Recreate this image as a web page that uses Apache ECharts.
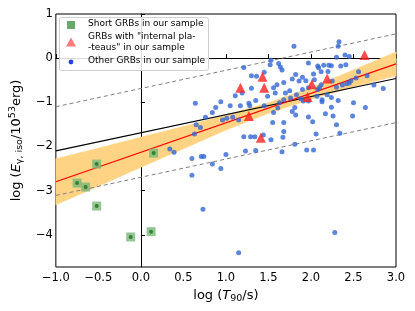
<!DOCTYPE html>
<html>
<head>
<meta charset="utf-8">
<script src="https://cdn.jsdelivr.net/npm/echarts@6/dist/echarts.min.js"></script>
<style>
html,body{margin:0;padding:0;background:#fff;}
#chart{width:415px;height:311px;}
</style>
</head>
<body>
<div id="chart"></div>
<script>
// ---- data ----
const xTickLabels = ['−1.0','−0.5','0.0','0.5','1.0','1.5','2.0','2.5','3.0'];
const yTickLabels = ['−4','−3','−2','−1','0','1'];

const shortGRBs = [[-0.75,-2.83],[-0.65,-2.92],[-0.52,-2.40],[-0.52,-3.35],[-0.12,-4.05],[0.12,-3.93],[0.15,-2.15]];

const plateauGRBs = [[1.17,-0.67],[1.43,-0.42],[1.45,-0.67],[2.01,-0.59],[2.19,-0.46],[2.63,0.07],[1.27,-1.31],[1.96,-0.88],[1.41,-1.80]];

const otherGRBs = [
[1.80,0.27],[1.53,-0.05],[1.21,-0.21],[1.62,-0.12],[1.64,-0.20],[1.66,-0.27],[1.52,-0.15],[1.97,-0.11],[2.08,-0.18],
[1.45,-0.32],[1.36,-0.41],[1.30,-0.40],[1.82,-0.37],[1.78,-0.47],[1.86,-0.52],[1.90,-0.43],[1.94,-0.51],[2.03,-0.36],
[2.04,-0.49],[1.68,-0.55],[1.60,-0.60],[1.56,-0.67],[1.58,-0.79],[1.30,-0.68],[1.75,-0.74],[1.70,-0.79],[1.83,-0.83],
[1.90,-0.71],[1.97,-0.67],[1.19,-0.79],[1.35,-0.96],[1.49,-0.86],[1.68,-0.94],[1.63,-1.01],[1.76,-0.90],[1.88,-0.92],
[2.08,-0.71],[1.11,-0.85],[2.33,0.37],[2.32,0.27],[2.40,0.07],[2.45,0.04],[2.30,0.02],[2.15,-0.16],[2.21,-0.16],
[2.24,-0.17],[2.35,-0.18],[2.41,-0.15],[2.09,-0.22],[2.12,-0.31],[2.20,-0.30],[2.56,-0.31],[2.53,-0.45],[2.47,-0.51],
[2.42,-0.58],[2.66,-0.40],[2.25,-0.52],[2.12,-0.60],[2.10,-0.67],[2.30,-0.66],[2.37,-0.61],[2.45,-0.56],[2.74,-0.61],
[2.85,-0.69],[2.07,-0.86],[2.19,-0.83],[2.24,-0.89],[2.13,-0.94],[2.32,-0.96],[2.50,-1.01],[2.24,-1.11],[2.64,-1.12],
[0.64,-1.02],[0.94,-0.99],[0.88,-1.12],[1.05,-1.08],[1.17,-1.08],[1.27,-1.02],[1.28,-1.08],[0.84,-1.23],[0.76,-1.34],
[1.45,-1.08],[1.56,-1.23],[0.96,-1.40],[1.01,-1.36],[1.08,-1.34],[1.15,-1.40],[0.65,-1.51],[0.70,-1.57],[0.63,-1.72],
[0.34,-2.06],[0.39,-2.13],[1.21,-1.78],[1.29,-1.78],[1.34,-1.78],[1.44,-1.74],[1.53,-1.85],[1.23,-2.10],[1.35,-2.09],
[1.00,-2.18],[0.60,-2.27],[0.71,-2.23],[0.74,-2.23],[0.84,-2.40],[0.94,-2.50],[0.60,-2.65],[0.73,-3.42],[2.28,-3.95],
[1.15,-4.41],[1.61,-1.13],[1.81,-1.12],[1.78,-1.21],[1.82,-1.29],[1.91,-0.97],[1.97,-0.97],[2.13,-0.99],[2.17,-1.26],
[2.26,-1.31],[2.49,-1.31],[1.97,-1.33],[2.02,-1.44],[1.55,-1.46],[1.68,-1.46],[2.30,-1.51],[1.68,-1.66],[1.67,-1.79],
[2.06,-1.72],[2.34,-1.70],[1.81,-1.95],[1.66,-2.12],[1.95,-2.08],[2.03,-2.08]
];

const fitLine = [[-1,-2.80],[3,-0.13]];
const refLine = [[-1,-2.10],[3,-0.46]];
const refUpper = [[-1,-1.10],[3,0.55]];
const refLower = [[-1,-3.11],[3,-1.46]];

const bandX = [-1,-0.5,0,0.5,1,1.5,2,2.5,3];
const bandUpper = [-2.28,-2.04,-1.79,-1.55,-1.29,-1.01,-0.67,-0.27,0.14];
const bandLower = [-3.32,-2.90,-2.47,-2.05,-1.63,-1.25,-0.93,-0.65,-0.40];

const legendLabels = ['Short GRBs in our sample','GRBs with "internal pla-','-teaus" in our sample','Other GRBs in our sample'];

// ---- chart ----
const FONT = 'DejaVu Sans';
const chart = echarts.init(document.getElementById('chart'), null, {renderer:'canvas'});

const bandData = bandX.map((x,i)=>[x, bandUpper[i], bandLower[i]]);

const lineSeries = (data, color, type, width, z) => ({
  type:'line', data, showSymbol:false, symbol:'none', silent:true, z,
  lineStyle:{color, width, type}, clip:true, animation:false
});

const option = {
  animation:false,
  backgroundColor:'#fff',
  grid:{left:54.3, right:19, top:14, bottom:44, show:true, borderColor:'#000', borderWidth:1, backgroundColor:'transparent'},
  xAxis:{
    type:'value', min:-1, max:3, interval:0.5,
    axisLine:{show:true, lineStyle:{color:'#000', width:1}},
    axisTick:{show:true, inside:true, length:4, lineStyle:{color:'#000'}},
    splitLine:{show:false},
    axisLabel:{color:'#000', fontSize:11.5, fontFamily:FONT, margin:5,
      formatter:(v)=>{ const i = Math.round((v+1)/0.5); return xTickLabels[i] !== undefined ? xTickLabels[i] : ''; }},
    name:'{n|log (}{i|T}{s|90}{n|/s)}',
    nameLocation:'middle', nameGap:16,
    nameTextStyle:{color:'#000', fontFamily:FONT, fontSize:13, rich:{
      n:{fontSize:13, fontFamily:FONT, color:'#000'},
      i:{fontSize:13, fontFamily:FONT, color:'#000', fontStyle:'italic'},
      s:{fontSize:9.5, fontFamily:FONT, color:'#000', padding:[7,0,0,0]}
    }}
  },
  yAxis:{
    type:'value', min:-4.73, max:1,
    splitNumber:5,
    axisLine:{show:true, lineStyle:{color:'#000', width:1}},
    axisTick:{show:true, inside:true, length:4, lineStyle:{color:'#000'}},
    splitLine:{show:false},
    axisLabel:{color:'#000', fontSize:11.5, fontFamily:FONT, margin:3, showMinLabel:false,
      formatter:(v)=>{ const i = Math.round(v)+4; return (Math.abs(v-Math.round(v))<1e-6 && yTickLabels[i]!==undefined) ? yTickLabels[i] : ''; }},
    name:'{n|log (}{i|E}{s|γ, iso}{n|/10}{p|53}{n|erg)}',
    nameLocation:'middle', nameRotate:90, nameGap:20,
    nameTextStyle:{color:'#000', fontFamily:FONT, fontSize:13, rich:{
      n:{fontSize:13, fontFamily:FONT, color:'#000'},
      i:{fontSize:13, fontFamily:FONT, color:'#000', fontStyle:'italic'},
      s:{fontSize:9.5, fontFamily:FONT, color:'#000', padding:[7,0,0,0]},
      p:{fontSize:9.5, fontFamily:FONT, color:'#000', padding:[0,0,7,0]}
    }}
  },
  series:[
    {
      type:'custom', z:1, silent:true, clip:true,
      data:bandData,
      renderItem:(params, api)=>{
        const i = params.dataIndex;
        if (i >= bandData.length-1) return null;
        const a = bandData[i], b = bandData[i+1];
        const pts = [api.coord([a[0],a[1]]), api.coord([b[0],b[1]]), api.coord([b[0],b[2]]), api.coord([a[0],a[2]])];
        return {type:'polygon', shape:{points:pts}, style:{fill:'#ffd384', stroke:'#ffd384', lineWidth:0.6}};
      }
    },
    lineSeries(refUpper, '#808080', [4,3], 1, 2),
    lineSeries(refLower, '#808080', [4,3], 1, 2),
    lineSeries(refLine, '#000', 'solid', 1.2, 3),
    lineSeries(fitLine, '#ff0000', 'solid', 1.1, 3),
    {type:'scatter', name:'Other GRBs', data:otherGRBs, symbol:'circle', symbolSize:5, z:5,
      itemStyle:{color:'#3366d6'}},
    {type:'scatter', name:'Short GRBs', data:shortGRBs, symbol:'rect', symbolSize:9, z:5,
      itemStyle:{color:'#78b878'}},
    {type:'scatter', name:'Short GRBs centre', data:shortGRBs, symbol:'circle', symbolSize:4, z:6,
      itemStyle:{color:'#1f6f1f'}},
    {type:'scatter', name:'Plateau GRBs', data:plateauGRBs, symbol:'triangle', symbolSize:10, z:6,
      itemStyle:{color:'#ff2020', opacity:0.8}}
  ],
  graphic:[
    {type:'rect', shape:{x:59.5, y:17.5, width:149, height:53, r:2}, style:{fill:'rgba(255,255,255,0.85)', stroke:'#d0d0d0', lineWidth:1}, z:20},
    {type:'rect', shape:{x:67, y:21, width:8, height:8}, style:{fill:'#6aa86a'}, z:21},
    {type:'polygon', shape:{points:[[71,37.5],[76,46.5],[66,46.5]]}, style:{fill:'#ff7a7a'}, z:21},
    {type:'circle', shape:{cx:71, cy:62, r:2.4}, style:{fill:'#2244dd'}, z:21},
    {type:'text', left:88, top:19.5, style:{text:legendLabels[0], font:'9px "DejaVu Sans"', fill:'#000'}, z:21},
    {type:'text', left:88, top:32, style:{text:legendLabels[1], font:'9px "DejaVu Sans"', fill:'#000'}, z:21},
    {type:'text', left:88, top:43, style:{text:legendLabels[2], font:'9px "DejaVu Sans"', fill:'#000'}, z:21},
    {type:'text', left:88, top:56.5, style:{text:legendLabels[3], font:'9px "DejaVu Sans"', fill:'#000'}, z:21}
  ]
};
chart.setOption(option);
</script>
</body>
</html>
